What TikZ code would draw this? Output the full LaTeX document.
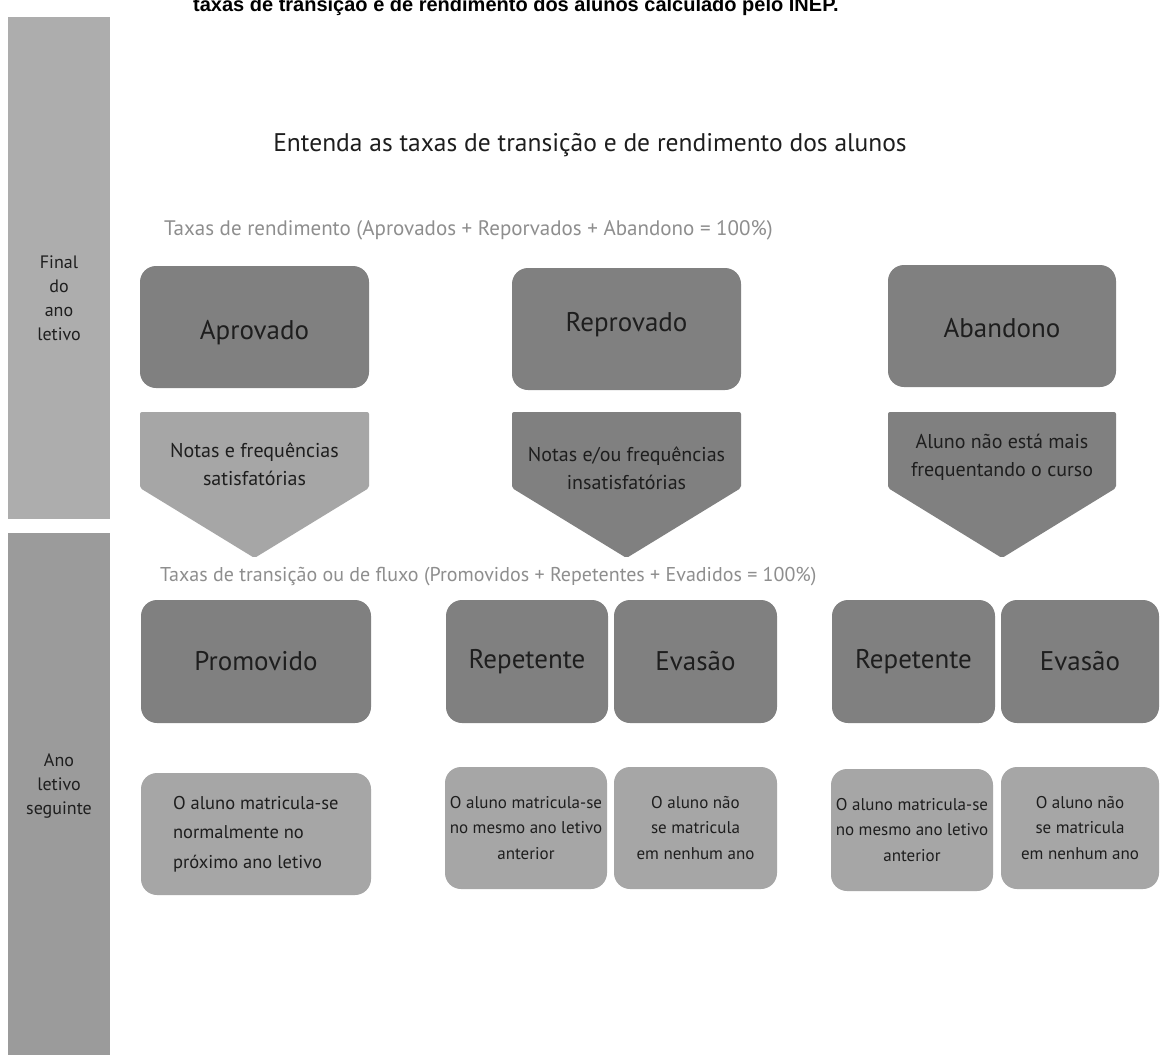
\documentclass[tikz,border=0pt]{standalone}
\usepackage{fontspec}
\setmainfont{PT Sans}
\newfontfamily\headfont{Liberation Sans}
\usetikzlibrary{positioning}

\definecolor{boxdark}{HTML}{808080}
\definecolor{boxlight}{HTML}{A6A6A6}
\definecolor{bartop}{HTML}{ADADAD}
\definecolor{barbottom}{HTML}{9B9B9B}
\definecolor{labelgray}{HTML}{8E8E8E}
\definecolor{inktext}{HTML}{1E1E1E}

\tikzset{
  tile/.style={rounded corners=16pt, inner sep=0pt, align=center, text=inktext},
  darktile/.style={tile, fill=boxdark, font=\fontsize{27}{32}\selectfont},
  lighttile/.style={tile, fill=boxlight, font=\fontsize{17}{25.5}\selectfont},
  tilelabel/.style={inner sep=0pt, text=inktext, font=\fontsize{27}{32}\selectfont},
  chevtext/.style={inner sep=0pt, align=center, text=inktext, font=\fontsize{20}{28}\selectfont},
  sidetext/.style={inner sep=0pt, align=center, text=inktext, font=\fontsize{18}{24}\selectfont},
  ratelabel/.style={anchor=west, inner sep=0pt, text=labelgray},
}

\begin{document}
\begin{tikzpicture}[x=1pt, y=-1pt]
    \useasboundingbox (0,0) rectangle (1160,1055);
    \fill[white] (0,0) rectangle (1160,1055);

    % cut-off heading of the page
    \node[anchor=base west, inner sep=0pt, font=\headfont\bfseries\fontsize{20}{24}\selectfont]
        (pagehead) at (193,11) {taxas de transição e de rendimento dos alunos calculado pelo INEP.};

    % side bars
    \fill[bartop] (8,17) rectangle (110,519);
    \fill[barbottom] (8,533) rectangle (110,1055);
    \node[sidetext] (finalano) at (59,298) {Final\\do\\ano\\letivo};
    \node[sidetext] (anoseguinte) at (59,786) {Ano\\letivo\\seguinte};

    % titles
    \node[inner sep=0pt, text=inktext, font=\fontsize{25.5}{30}\selectfont]
        (titulo) at (590,145) {Entenda as taxas de transição e de rendimento dos alunos};
    \node[ratelabel, font=\fontsize{21}{24}\selectfont] (rendimento) at (164,230)
        {Taxas de rendimento (Aprovados + Reporvados + Abandono = 100\%)};
    \node[ratelabel, font=\fontsize{20}{24}\selectfont] (transicao) at (160,577)
        {Taxas de transição ou de fluxo (Promovidos + Repetentes + Evadidos = 100\%)};

    % final do ano letivo
    \node[darktile, minimum width=229pt, minimum height=122pt] (aprovado) at (254.5,327) {};
    \node[tilelabel] (aprovadotxt) at (254.5,333) {Aprovado};
    \node[darktile, minimum width=229pt, minimum height=122pt] (reprovado) at (626.5,329) {};
    \node[tilelabel] (reprovadotxt) at (626.5,325) {Reprovado};
    \node[darktile, minimum width=228pt, minimum height=122pt] (abandono) at (1002,326) {};
    \node[tilelabel] (abandonotxt) at (1002,328) {Abandono};

    \fill[boxlight, rounded corners=2pt] (140,412) -- (369,412) -- (369,488) -- (254.5,558) -- (140,488) -- cycle;
    \fill[boxdark, rounded corners=2pt] (512,412) -- (741,412) -- (741,488) -- (626.5,558) -- (512,488) -- cycle;
    \fill[boxdark, rounded corners=2pt] (888,412) -- (1116,412) -- (1116,488) -- (1002,558) -- (888,488) -- cycle;
    \node[chevtext] (notasA) at (254.5,464) {Notas e frequências\\satisfatórias};
    \node[chevtext] (notasB) at (626.5,468) {Notas e/ou frequências\\insatisfatórias};
    \node[chevtext] (notasC) at (1002,457) {Aluno não está mais\\frequentando o curso};

    % ano letivo seguinte
    \node[darktile, minimum width=230pt, minimum height=123pt] (promovido) at (256,661.5) {Promovido};
    \node[darktile, minimum width=162pt, minimum height=123pt] (repetenteB) at (527,661.5) {Repetente};
    \node[darktile, minimum width=163pt, minimum height=123pt] (evasaoB) at (695.5,661.5) {Evasão};
    \node[darktile, minimum width=163pt, minimum height=123pt] (repetenteC) at (913.5,661.5) {Repetente};
    \node[darktile, minimum width=158pt, minimum height=123pt] (evasaoC) at (1080,661.5) {Evasão};

    \node[lighttile, minimum width=230pt, minimum height=122pt] (promdesc) at (256,834) {};
    \node[anchor=west, inner sep=0pt, align=left, text=inktext, font=\fontsize{18.5}{29.5}\selectfont]
        (promtext) at ([xshift=32pt]promdesc.west) {O aluno matricula-se\\normalmente no\\próximo ano letivo};
    \node[lighttile, minimum width=162pt, minimum height=122pt] (repdescB) at (526,828)
        {O aluno matricula-se\\no mesmo ano letivo\\anterior};
    \node[lighttile, minimum width=163pt, minimum height=122pt] (evadescB) at (695.5,828)
        {O aluno não\\se matricula\\em nenhum ano};
    \node[lighttile, minimum width=162pt, minimum height=122pt] (repdescC) at (912,830)
        {O aluno matricula-se\\no mesmo ano letivo\\anterior};
    \node[lighttile, minimum width=158pt, minimum height=122pt] (evadescC) at (1080,828)
        {O aluno não\\se matricula\\em nenhum ano};
\end{tikzpicture}
\end{document}
